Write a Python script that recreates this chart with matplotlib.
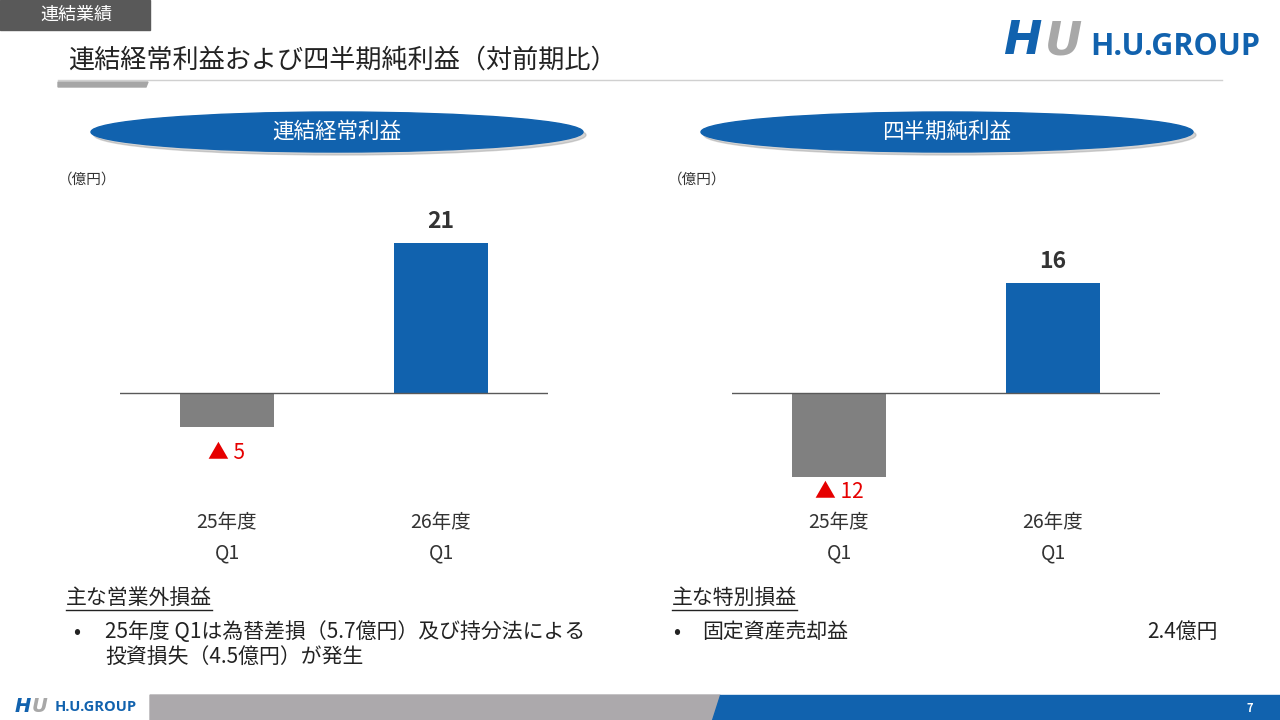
import matplotlib
matplotlib.use("Agg")
import matplotlib.pyplot as plt
from matplotlib.patches import Ellipse, Polygon, Rectangle

plt.rcParams['font.family'] = ['Noto Sans CJK JP', 'DejaVu Sans']

# Data (億円)
categories = ["25年度\nQ1", "26年度\nQ1"]
ordinary_profit = [-4.8, 21]
net_profit = [-12.2, 16]
ordinary_labels = ["▲ 5", "21"]
net_labels = ["▲ 12", "16"]

BLUE = "#1162AE"
GRAY_BAR = "#808080"
DARK = "#333333"
RED = "#E60000"

W, H = 1280, 720
fig = plt.figure(figsize=(W / 100, H / 100), dpi=100)


def fx(x):
    return x / W


def fy(y):
    return 1 - y / H


# Top-left section tag
fig.patches.append(Rectangle((0, fy(30)), fx(150), 30 / H, transform=fig.transFigure,
                             color="#595959", zorder=1))
fig.text(fx(76), fy(15), "連結業績", color="white", fontsize=13, ha="center", va="center")

# Title and underline
fig.text(fx(68), fy(60), "連結経常利益および四半期純利益（対前期比）", fontsize=18.8,
         color="#222222", ha="left", va="center")
fig.add_artist(plt.Line2D([fx(58), fx(1222)], [fy(80), fy(80)], transform=fig.transFigure,
                          color="#D0D0D0", lw=1))
fig.patches.append(Polygon([(fx(58), fy(82)), (fx(148), fy(82)), (fx(146), fy(87)), (fx(58), fy(87))],
                           closed=True, transform=fig.transFigure, color="#A6A6A6"))

# Logo top-right
fig.text(fx(1003), fy(42), "H", fontsize=33, fontweight="bold", style="italic", color=BLUE,
         ha="left", va="center", family="DejaVu Sans")
fig.text(fx(1045), fy(42), "U", fontsize=33, fontweight="bold", style="italic", color="#A8A8A8",
         ha="left", va="center", family="DejaVu Sans")
fig.text(fx(1090), fy(47), "H.U.GROUP", fontsize=22, fontweight="bold", color=BLUE,
         ha="left", va="center", family="Open Sans")


def header(cx, text):
    fig.patches.append(Ellipse((fx(cx + 3), fy(135)), fx(492), 40 / H, transform=fig.transFigure,
                               color="#A0A0A0", alpha=0.45, zorder=1))
    fig.patches.append(Ellipse((fx(cx), fy(132)), fx(492), 40 / H, transform=fig.transFigure,
                               color=BLUE, zorder=2))
    fig.text(fx(cx), fy(132), text, color="white", fontsize=15.5, ha="center", va="center", zorder=3)


header(337, "連結経常利益")
header(947, "四半期純利益")

fig.text(fx(58), fy(180), "（億円）", fontsize=10.5, color=DARK, ha="left", va="center")
fig.text(fx(668), fy(180), "（億円）", fontsize=10.5, color=DARK, ha="left", va="center")


def bar_chart(left, values, labels, ylim, neg_offset):
    ax = fig.add_axes([fx(left), fy(500), fx(428), 300 / H])
    x = range(len(values))
    colors = [GRAY_BAR if v < 0 else BLUE for v in values]
    ax.bar(x, values, width=0.435, color=colors, zorder=2)
    ax.axhline(0, color="#595959", lw=1, zorder=3)
    ax.set_xlim(-0.5, 1.5)
    ax.set_ylim(*ylim)
    ax.axis("off")
    for i, (v, lab) in enumerate(zip(values, labels)):
        if v < 0:
            ax.annotate(lab, (i, v), xytext=(0, -neg_offset), textcoords="offset points",
                        ha="center", va="top", fontsize=15, color=RED)
        else:
            ax.annotate(lab, (i, v), xytext=(0, 7), textcoords="offset points",
                        ha="center", va="bottom", fontsize=16.5, fontweight="bold", color=DARK)
    for i, cat in enumerate(categories):
        top, bottom = cat.split("\n")
        ax.text(i, -23 / 300, top, transform=ax.get_xaxis_transform(), ha="center", va="center",
                fontsize=14, color=DARK)
        ax.text(i, -53 / 300, bottom, transform=ax.get_xaxis_transform(), ha="center", va="center",
                fontsize=14, color=DARK)
    return ax


bar_chart(120, ordinary_profit, ordinary_labels, (-15.0, 27.0), 11)
bar_chart(732, net_profit, net_labels, (-15.6, 28.1), 3)

# Notes
TXT = 15
INK = "#222222"
fig.text(fx(66), fy(598), "主な営業外損益", fontsize=TXT, color=INK, ha="left", va="center")
fig.add_artist(plt.Line2D([fx(66), fx(212)], [fy(610), fy(610)], transform=fig.transFigure,
                          color=INK, lw=1))
fig.text(fx(77), fy(632), "•", fontsize=TXT, color=INK, ha="center", va="center")
fig.text(fx(105), fy(632), "25年度 Q1は為替差損（5.7億円）及び持分法による", fontsize=TXT,
         color=INK, ha="left", va="center")
fig.text(fx(105), fy(657), "投資損失（4.5億円）が発生", fontsize=TXT, color=INK,
         ha="left", va="center")

fig.text(fx(672), fy(598), "主な特別損益", fontsize=TXT, color=INK, ha="left", va="center")
fig.add_artist(plt.Line2D([fx(672), fx(797)], [fy(610), fy(610)], transform=fig.transFigure,
                          color=INK, lw=1))
fig.text(fx(677), fy(632), "•", fontsize=TXT, color=INK, ha="center", va="center")
fig.text(fx(702), fy(632), "固定資産売却益", fontsize=TXT, color=INK, ha="left", va="center")
fig.text(fx(1218), fy(632), "2.4億円", fontsize=TXT, color=INK, ha="right", va="center")

# Footer
fig.patches.append(Polygon([(fx(150), fy(695)), (fx(720), fy(695)), (fx(712), fy(720)), (fx(150), fy(720))],
                           closed=True, transform=fig.transFigure, color="#ACA9AC"))
fig.patches.append(Polygon([(fx(720), fy(695)), (fx(1280), fy(695)), (fx(1280), fy(720)), (fx(712), fy(720))],
                           closed=True, transform=fig.transFigure, color=BLUE))
fig.text(fx(1250), fy(708), "7", fontsize=8, fontweight="bold", color="white", ha="center", va="center")
fig.text(fx(15), fy(706), "H", fontsize=14, fontweight="bold", style="italic", color=BLUE,
         ha="left", va="center", family="DejaVu Sans")
fig.text(fx(32), fy(706), "U", fontsize=14, fontweight="bold", style="italic", color="#A8A8A8",
         ha="left", va="center", family="DejaVu Sans")
fig.text(fx(55), fy(707), "H.U.GROUP", fontsize=10.5, fontweight="bold", color=BLUE,
         ha="left", va="center", family="Open Sans")

fig.savefig("out.png", dpi=100)
